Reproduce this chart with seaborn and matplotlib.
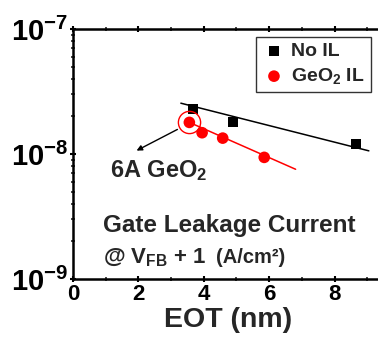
import matplotlib
matplotlib.use("Agg")
import matplotlib.pyplot as plt
import seaborn as sns
import pandas as pd
from matplotlib.ticker import LogLocator, MultipleLocator, NullFormatter, FixedLocator

# Measured leakage vs EOT
noil_eot = [3.66, 4.90, 8.65]
noil_j = [2.28e-8, 1.79e-8, 1.20e-8]
geo_eot = [3.56, 3.95, 4.58, 5.85]
geo_j = [1.79e-8, 1.48e-8, 1.34e-8, 9.4e-9]

# Trend lines (end points)
noil_fit_eot = [3.30, 9.05]
noil_fit_j = [2.55e-8, 1.06e-8]
geo_fit_eot = [3.56, 6.81]
geo_fit_j = [1.79e-8, 7.55e-9]

series_labels = ["No IL", "GeO$_2$ IL"]
y_ticks = [1e-9, 1e-8, 1e-7]
y_ticklabels = ["10$^{-9}$", "10$^{-8}$", "10$^{-7}$"]

sns.set_style("ticks")
plt.rcParams["font.family"] = ["Liberation Sans", "DejaVu Sans"]
plt.rcParams["font.weight"] = "bold"
plt.rcParams["mathtext.fontset"] = "custom"
plt.rcParams["mathtext.rm"] = "Liberation Sans:bold"
plt.rcParams["mathtext.bf"] = "Liberation Sans:bold"
plt.rcParams["mathtext.it"] = "Liberation Sans:bold"
plt.rcParams["mathtext.default"] = "regular"

fig = plt.figure(figsize=(3.78, 3.37), dpi=100)
ax = fig.add_axes([0.193, 0.172, 0.82, 0.742])

df_noil = pd.DataFrame({"eot": noil_eot, "j": noil_j})
df_geo = pd.DataFrame({"eot": geo_eot, "j": geo_j})

sns.lineplot(x=noil_fit_eot, y=noil_fit_j, ax=ax, color="black", lw=1.1)
sns.lineplot(x=geo_fit_eot, y=geo_fit_j, ax=ax, color="red", lw=1.1)
sns.scatterplot(data=df_noil, x="eot", y="j", ax=ax, marker="s", s=52,
                color="black", edgecolor="none", label=series_labels[0], zorder=3)
sns.scatterplot(data=df_geo, x="eot", y="j", ax=ax, marker="o", s=70,
                color="red", edgecolor="none", label=series_labels[1], zorder=3)

# highlight the thinnest GeO2 sample
ax.plot([geo_eot[0]], [geo_j[0]], marker="o", ms=16, mfc="none", mec="red",
        mew=1.0, ls="none", zorder=4)

ax.set_yscale("log")
ax.set_xlim(0, 9.48)
ax.set_ylim(1e-9, 1e-7)

ax.xaxis.set_major_locator(MultipleLocator(2))
ax.xaxis.set_minor_locator(MultipleLocator(1))
ax.yaxis.set_major_locator(FixedLocator(y_ticks))
ax.set_yticklabels(y_ticklabels)
ax.yaxis.set_minor_locator(LogLocator(base=10, subs=range(2, 10), numticks=20))
ax.yaxis.set_minor_formatter(NullFormatter())

for s in ["left", "bottom", "top"]:
    ax.spines[s].set_linewidth(1.8)
    ax.spines[s].set_color("black")
ax.spines["right"].set_visible(False)

ax.tick_params(axis="both", which="major", direction="inout", length=5, width=1.5,
               top=True, right=False, colors="black")
ax.tick_params(axis="both", which="minor", direction="inout", length=3, width=1.2,
               top=True, right=False)
ax.tick_params(axis="y", which="major", labelsize=21, pad=1)
ax.tick_params(axis="x", which="major", labelsize=16, pad=1)
for lab in ax.get_xticklabels() + ax.get_yticklabels():
    lab.set_fontweight("bold")

ax.set_xlabel("EOT (nm)", fontsize=20.5, fontweight="bold", labelpad=1.5)
ax.set_ylabel("")

leg = ax.legend(loc="upper right", bbox_to_anchor=(0.961, 0.968), fontsize=14,
                frameon=True, fancybox=False, handletextpad=0.3, borderpad=0.3,
                labelspacing=0.3, handlelength=1.2, borderaxespad=0)
leg.get_frame().set_edgecolor("black")
leg.get_frame().set_linewidth(1.0)
for t in leg.get_texts():
    t.set_fontweight("bold")

ax.annotate("", xy=(1.87, 1.04e-8), xytext=(3.27, 1.61e-8),
            arrowprops=dict(arrowstyle="-|>", color="black", lw=1.0,
                            mutation_scale=8))
ax.text(1.13, 6.55e-9, "6A GeO$_2$", fontsize=17, fontweight="bold", va="baseline")

ax.text(0.097, 0.188, "Gate Leakage Current", transform=ax.transAxes,
        fontsize=17.5, fontweight="bold", va="baseline")
ax.text(0.097, 0.064, "@ V$_{FB}$ + 1", transform=ax.transAxes,
        fontsize=16, fontweight="bold", va="baseline")
ax.text(0.463, 0.064, "(A/cm²)", transform=ax.transAxes,
        fontsize=14.5, fontweight="bold", va="baseline")

fig.savefig("out.png", dpi=100)
